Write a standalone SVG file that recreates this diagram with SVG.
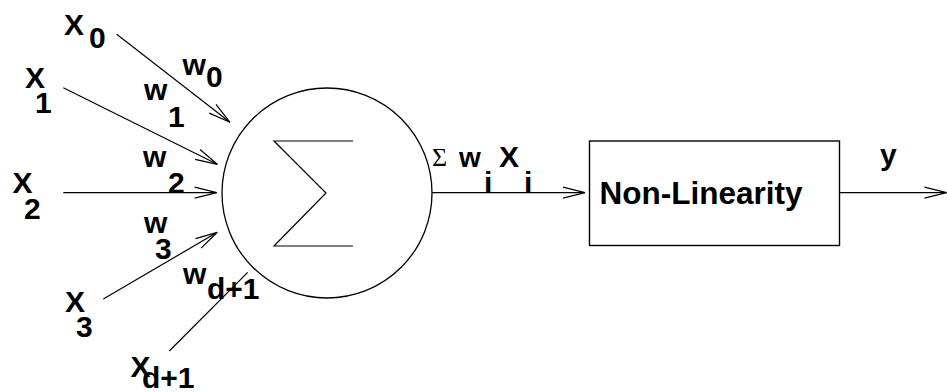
<svg xmlns="http://www.w3.org/2000/svg" width="947" height="392" viewBox="0 0 947 392">
<style>
.ln{stroke:#000;stroke-width:1.2;fill:none}
.sh{stroke:#000;stroke-width:1.3;fill:#fff}
.t{font-family:"Liberation Sans",Arial,sans-serif;font-weight:bold;font-size:30px;fill:#000}
.sg{font-family:"Liberation Serif","DejaVu Serif",serif;font-size:26px;fill:#000}
</style>
<defs>
<marker id="ah" markerUnits="userSpaceOnUse" markerWidth="24" markerHeight="14" viewBox="0 0 24 14" refX="22" refY="7" orient="auto" overflow="visible">
<path d="M0,1.5 L22,7 L0,12.5" fill="none" stroke="#000" stroke-width="1.2"/>
</marker>
</defs>
<rect width="947" height="392" fill="#fff"/>
<g id="connectors">
<line class="ln" x1="116.7" y1="34.3" x2="230" y2="122.3" marker-end="url(#ah)"/>
<line class="ln" x1="63.3" y1="87.7" x2="217.3" y2="164.3" marker-end="url(#ah)"/>
<line class="ln" x1="63.3" y1="192.7" x2="216.7" y2="192.7" marker-end="url(#ah)"/>
<line class="ln" x1="103.3" y1="299" x2="217.3" y2="232.3" marker-end="url(#ah)"/>
<line class="ln" x1="169.3" y1="351" x2="247.7" y2="272.3"/>
<line class="ln" x1="432" y1="192.7" x2="585" y2="192.7" marker-end="url(#ah)"/>
<line class="ln" x1="839" y1="192.7" x2="946.5" y2="192.7" marker-end="url(#ah)"/>
</g>
<g id="inputs">
<text class="t" x="64" y="35">X</text><text class="t" x="89" y="48">0</text>
<text class="t" x="25" y="88">X</text><text class="t" x="35" y="113">1</text>
<text class="t" x="12.5" y="192.5">X</text><text class="t" x="24" y="219">2</text>
<text class="t" x="65" y="311.5">X</text><text class="t" x="76" y="337">3</text>
<text class="t" x="130.5" y="377">X</text><text class="t" x="142" y="387.5">d+1</text>
</g>
<g id="weights">
<text class="t" x="182.5" y="75">w</text><text class="t" x="206" y="87">0</text>
<text class="t" x="144" y="100">w</text><text class="t" x="168" y="126.5">1</text>
<text class="t" x="143" y="166.5">w</text><text class="t" x="168" y="193">2</text>
<text class="t" x="144" y="233">w</text><text class="t" x="155" y="259">3</text>
<text class="t" x="183" y="284">w</text><text class="t" x="207" y="299">d+1</text>
</g>
<g id="summation">
<circle class="sh" cx="327" cy="193" r="105"/>
<polyline class="ln" points="353,141 274,141 326,193 274,246 353,246"/>
</g>
<g id="sum-label">
<text class="sg" x="432" y="166">Σ</text>
<text class="t" x="459" y="166.5" style="font-size:28px">w</text>
<text class="t" x="484" y="192.5">i</text>
<text class="t" x="499" y="166.5">X</text>
<text class="t" x="524" y="192.5">i</text>
</g>
<g id="nonlinearity">
<rect x="589.5" y="141" width="250" height="104.5" fill="#fff" stroke="#000" stroke-width="1.4"/>
<text class="t" x="599.5" y="204" style="font-size:31.5px">Non-Linearity</text>
</g>
<g id="output">
<text class="t" x="880" y="165">y</text>
</g>
</svg>
